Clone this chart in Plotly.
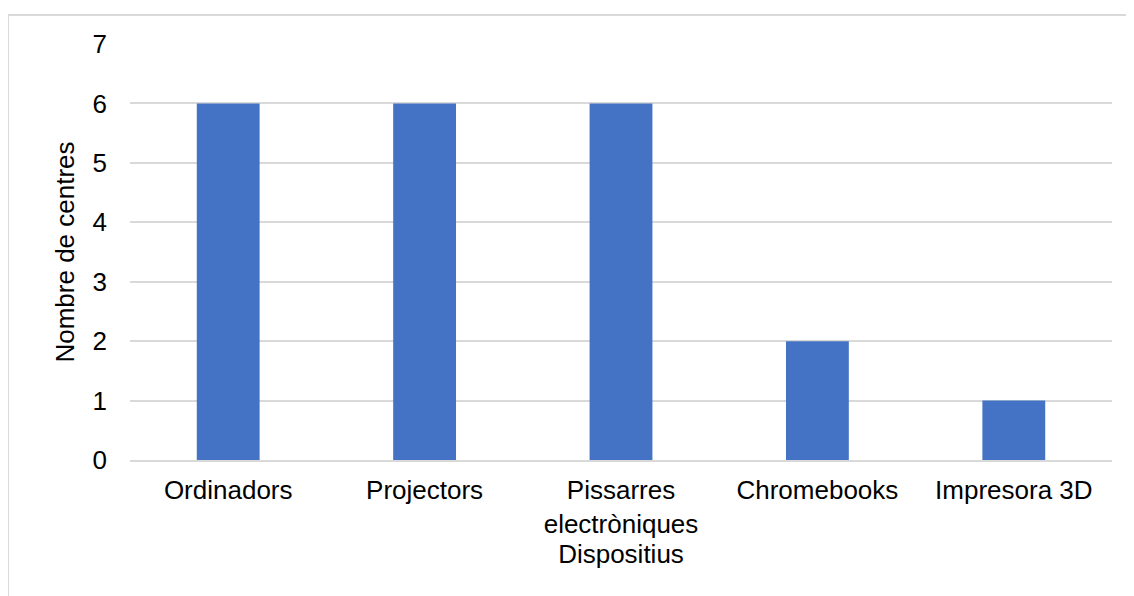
import plotly.graph_objects as go

categories = ["Ordinadors", "Projectors", "Pissarres<br>electròniques", "Chromebooks", "Impresora 3D"]
values = [6, 6, 6, 2, 1]
y_ticks = [0, 1, 2, 3, 4, 5, 6, 7]

# page body has an 8px margin, so figure coords = screen coords - 8
OFF = 8
W, H = 1134, 596
L, R, T, B = 130 - OFF, 1134 - (1112 - OFF), 44 - OFF, 596 - (460 - OFF)
pw, ph = W - L - R, H - T - B

fig = go.Figure(go.Bar(x=categories, y=values, marker_color="#4472c4", marker_line_width=0))

font = dict(family="Liberation Sans, Arial, sans-serif", size=26, color="#000000")

fig.update_layout(
    width=W, height=H,
    margin=dict(l=L, r=R, t=T, b=B, pad=0),
    paper_bgcolor="white", plot_bgcolor="white",
    bargap=0.68,
    font=font,
    showlegend=False,
    xaxis=dict(
        title=dict(text="Dispositius", font=font, standoff=7),
        showgrid=False, showline=True, linecolor="#d9d9d9", linewidth=2,
        ticks="", tickfont=font, ticklabelstandoff=6, zeroline=False,
    ),
    yaxis=dict(
        title=dict(text="Nombre de centres", font=font, standoff=10),
        range=[0, 7], tickvals=y_ticks, showgrid=True, gridcolor="#d9d9d9", gridwidth=1.5,
        zeroline=False, showline=False, ticks="", tickfont=font, ticklabelstandoff=22,
    ),
    shapes=[dict(
        type="rect", xref="paper", yref="paper",
        x0=(0 - L) / pw, x1=(1133 - OFF - L) / pw,
        y0=(H - B - 620) / ph, y1=(H - B - (15 - OFF)) / ph,
        line=dict(color="#d9d9d9", width=2), fillcolor="rgba(0,0,0,0)", layer="below",
    )],
)

fig.write_html("out.html")
